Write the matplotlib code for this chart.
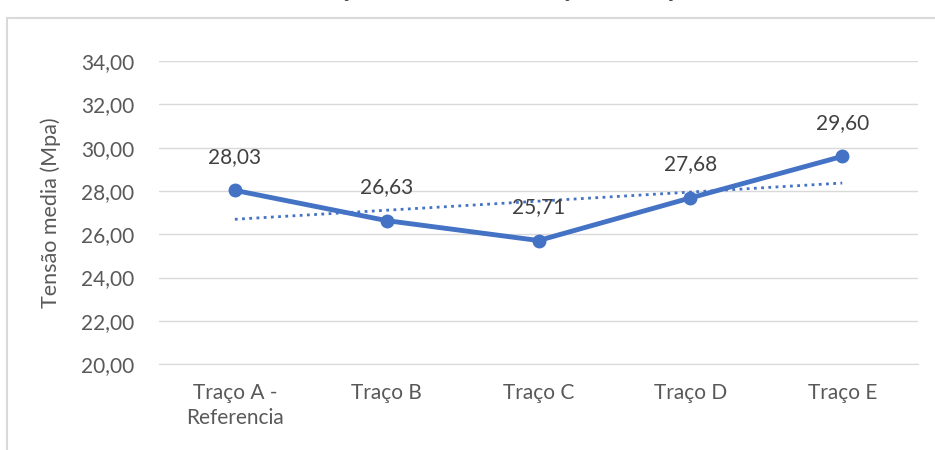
import matplotlib.pyplot as plt
import numpy as np
from matplotlib.patches import Rectangle

plt.rcParams['font.family'] = ['Lato', 'DejaVu Sans']

categories = ["Traço A -\nReferencia", "Traço B", "Traço C", "Traço D", "Traço E"]
tensao = [28.03, 26.63, 25.71, 27.68, 29.60]
yticks = [20, 22, 24, 26, 28, 30, 32, 34]

blue = "#4472C4"
grid = "#D9D9D9"
txt = "#595959"

fig = plt.figure(figsize=(9.35, 4.5), dpi=100)
ax = fig.add_axes([0.170, 0.191, 0.812, 0.673])

# outer chart frame (partly cut off like the original screenshot)
fig.patches.append(Rectangle((7 / 935, -0.1), 1.0, 0.1 + (450 - 18) / 450,
                             transform=fig.transFigure, fill=False,
                             edgecolor="#D9D9D9", linewidth=1.5))
# title is mostly outside the screenshot, only its bottom edge shows
fig.text(0.51, 1.0 + 0.022, "Gráfico 03 – Variação da tensão em função do traço em análise",
         ha="center", va="center", fontsize=17, color="#404040")

x = np.arange(len(categories))
ax.plot(x, tensao, color=blue, linewidth=3.5, marker="o", markersize=9, zorder=3)

# linear trendline
coef = np.polyfit(x, tensao, 1)
ax.plot(x, np.polyval(coef, x), color=blue, linewidth=2, linestyle=(0, (1, 1.6)), zorder=2)

for xi, v in zip(x, tensao):
    ax.annotate(f"{v:.2f}".replace(".", ","), (xi, v), xytext=(0, 24),
                textcoords="offset points", ha="center", va="center",
                fontsize=15, color="#404040")

ax.set_xlim(-0.5, len(categories) - 0.5)
ax.set_ylim(20, 34)
ax.set_yticks(yticks)
ax.set_yticklabels([f"{t:.2f}".replace(".", ",") for t in yticks])
ax.set_xticks(x)
ax.set_xticklabels(categories, linespacing=1.3)
ax.yaxis.grid(True, color=grid, linewidth=1)
ax.set_axisbelow(True)
for s in ["top", "right", "left"]:
    ax.spines[s].set_visible(False)
ax.spines["bottom"].set_color(grid)
ax.tick_params(length=0, labelsize=15, colors=txt)
ax.tick_params(axis="y", pad=18)
ax.tick_params(axis="x", pad=14)
ax.set_ylabel("Tensão media (Mpa)", fontsize=15.5, color=txt, labelpad=14)

fig.savefig("out.png", dpi=100)
